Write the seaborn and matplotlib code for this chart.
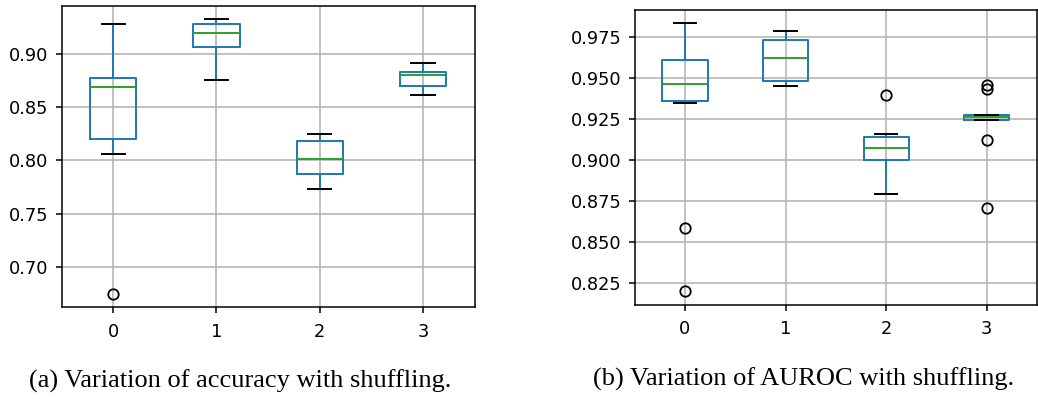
"""
Boxplots: variation of accuracy / AUROC with shuffling
"""

import pandas as pd
import matplotlib
matplotlib.use("Agg")
import matplotlib.pyplot as plt
import seaborn as sns

# Datos (valores por ejecución)
acc_0 = [0.675, 0.806, 0.812, 0.8196, 0.835, 0.855, 0.869, 0.871, 0.874, 0.8775, 0.890, 0.905, 0.928]
acc_1 = [0.8756, 0.895, 0.902, 0.9066, 0.910, 0.915, 0.919, 0.922, 0.925, 0.928, 0.929, 0.930, 0.932]
acc_2 = [0.7727, 0.778, 0.783, 0.787, 0.792, 0.797, 0.8007, 0.805, 0.812, 0.8184, 0.820, 0.822, 0.8247]
acc_3 = [0.8615, 0.865, 0.868, 0.870, 0.874, 0.878, 0.880, 0.881, 0.882, 0.8831, 0.885, 0.888, 0.8916]

auc_0 = [0.820, 0.8586, 0.9348, 0.936, 0.940, 0.944, 0.9463, 0.950, 0.955, 0.961, 0.968, 0.975, 0.9835]
auc_1 = [0.945, 0.946, 0.947, 0.948, 0.952, 0.957, 0.962, 0.965, 0.969, 0.973, 0.975, 0.977, 0.9789]
auc_2 = [0.8795, 0.890, 0.896, 0.900, 0.903, 0.905, 0.9074, 0.909, 0.912, 0.914, 0.915, 0.9159, 0.9396]
auc_3 = [0.8707, 0.9124, 0.9245, 0.9245, 0.9252, 0.9256, 0.926, 0.9265, 0.927, 0.9274, 0.9276, 0.9431, 0.9457]

captions = ["(a) Variation of accuracy with shuffling.",
            "(b) Variation of AUROC with shuffling."]

df_acc = pd.DataFrame({0: acc_0, 1: acc_1, 2: acc_2, 3: acc_3})
df_auc = pd.DataFrame({0: auc_0, 1: auc_1, 2: auc_2, 3: auc_3})

plt.rcParams['font.family'] = ['DejaVu Sans']
plt.rcParams['font.size'] = 12.5

W, H = 1038, 399
fig = plt.figure(figsize=(W / 100, H / 100), dpi=100)

# posiciones de los ejes en pixeles (izq, arriba, der, abajo)
boxes_px = [(61.5, 5.7, 474.7, 307.3), (634.7, 9.7, 1037.0, 304.7)]
caption_px = [(240, 381), (804, 379)]


def dibujar_boxplot(ax, df):
    """Boxplot estilo pandas con seaborn"""
    lw = 1.4
    sns.boxplot(data=df, ax=ax, fill=False, color='#1f77b4', width=0.45,
                linewidth=lw, whis=1.5, capwidths=0.225,
                boxprops=dict(color='#1f77b4', linewidth=lw),
                whiskerprops=dict(color='#1f77b4', linewidth=lw),
                capprops=dict(color='black', linewidth=lw),
                medianprops=dict(color='#2ca02c', linewidth=lw),
                flierprops=dict(marker='o', markerfacecolor='none',
                                markeredgecolor='black', markersize=7.5,
                                markeredgewidth=1.3))
    ax.set_axisbelow(True)
    ax.grid(True, color='#b0b0b0', linewidth=1.1)
    ax.set_xlim(-0.5, 3.5)
    ax.margins(y=0.05)
    ax.autoscale(axis='y')
    ax.set_xlabel('')
    ax.set_ylabel('')
    for s in ax.spines.values():
        s.set_color('black')
        s.set_linewidth(1.1)
    ax.tick_params(length=4.2, width=1.1, labelsize=12.8)
    ax.tick_params(axis='x', pad=7)
    ax.tick_params(axis='y', pad=5.5)


for (l, t, r, b), df in zip(boxes_px, [df_acc, df_auc]):
    ax = fig.add_axes([l / W, 1 - b / H, (r - l) / W, (b - t) / H])
    dibujar_boxplot(ax, df)

for (cx, cy), txt in zip(caption_px, captions):
    fig.text(cx / W, 1 - cy / H, txt, ha='center', va='center',
             family='Liberation Serif', fontsize=19)

fig.savefig('out.png', dpi=100)
plt.close(fig)
